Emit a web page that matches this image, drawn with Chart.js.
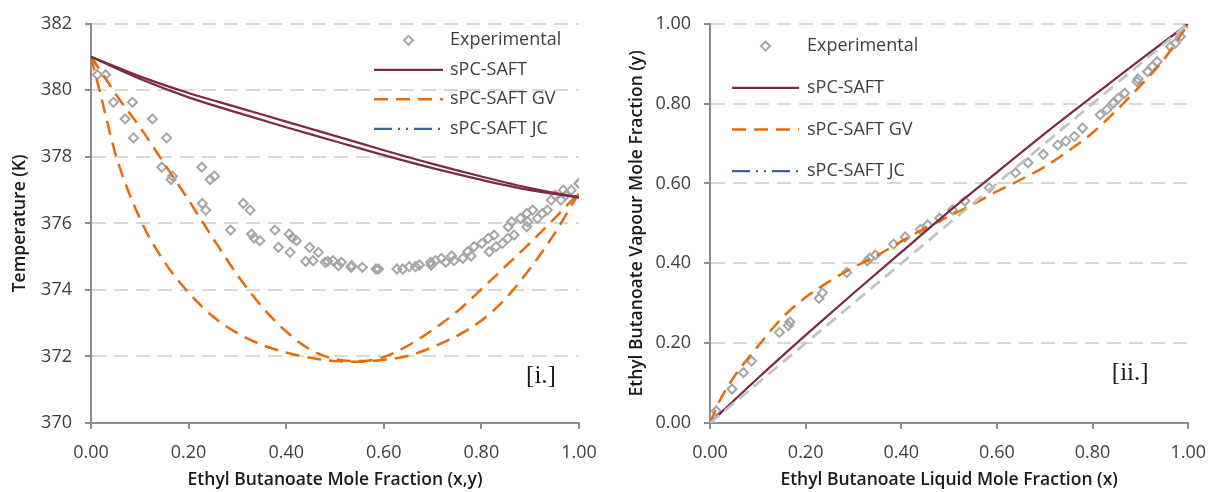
<!DOCTYPE html>
<html>
<head>
<meta charset="utf-8">
<script src="https://cdn.jsdelivr.net/npm/chart.js@4.4.1/dist/chart.umd.min.js"></script>
<style>
  html, body { margin: 0; padding: 0; background: #ffffff; }
  #wrap { position: relative; width: 1219px; height: 492px; overflow: hidden; }
  .panel { position: absolute; top: 0; height: 492px; }
  #p1 { left: 0; width: 610px; }
  #p2 { left: 610px; width: 609px; }
</style>
</head>
<body>
<div id="wrap">
  <div class="panel" id="p1"><canvas id="txy" width="610" height="492"></canvas></div>
  <div class="panel" id="p2"><canvas id="xy" width="609" height="492"></canvas></div>
</div>
<script>
// Ethyl butanoate VLE: measured points (liquid x, vapour y, temperature)
const expLiquidX = [0.000,0.013,0.046,0.070,0.087,0.145,0.164,0.167,0.228,0.235,0.286,0.329,0.334,0.346,0.384,0.408,0.440,0.455,0.480,0.507,0.533,0.584,0.639,0.665,0.697,0.727,0.744,0.762,0.779,0.816,0.830,0.843,0.854,0.867,0.893,0.895,0.915,0.925,0.935,0.963,0.973,0.984,1.000];
const expVapourY = [0.000,0.030,0.085,0.126,0.155,0.227,0.244,0.253,0.312,0.326,0.377,0.406,0.413,0.421,0.448,0.466,0.485,0.496,0.513,0.534,0.556,0.589,0.627,0.652,0.673,0.696,0.706,0.718,0.739,0.772,0.785,0.801,0.814,0.826,0.855,0.862,0.880,0.893,0.905,0.943,0.951,0.968,1.000];
const expTempK = [380.84,380.47,379.64,379.14,378.57,377.69,377.32,377.42,376.60,376.40,375.80,375.68,375.56,375.48,375.28,375.13,374.86,374.88,374.83,374.73,374.68,374.63,374.63,374.70,374.75,374.83,374.88,374.95,375.02,375.15,375.30,375.40,375.55,375.65,375.90,376.05,376.15,376.30,376.40,376.70,376.85,377.00,377.20];

// sPC-SAFT (no binary parameter)
const saftX = [0,0.1,0.2,0.3,0.4,0.5,0.6,0.7,0.8,0.9,1.0];
const saftDewT = [381.01,380.42,379.92,379.49,379.06,378.63,378.20,377.79,377.41,377.06,376.78];
const saftBubbleT = [381.01,380.35,379.79,379.33,378.89,378.47,378.05,377.66,377.31,377.00,376.78];
const saftVapourY = [0,0.112,0.220,0.325,0.428,0.530,0.628,0.725,0.818,0.910,1.0];

// sPC-SAFT GV
const gvX = [0,0.02,0.05,0.1,0.15,0.2,0.25,0.3,0.35,0.4,0.45,0.5,0.55,0.6,0.65,0.7,0.75,0.8,0.85,0.9,0.95,1.0];
const gvDewT = [381.0,380.58,379.9,378.9,377.8,376.7,375.55,374.45,373.5,372.75,372.2,371.92,371.86,371.98,372.33,372.8,373.35,374.02,374.72,375.42,376.15,376.92];
const gvBubbleT = [381.0,379.85,378.1,376.15,374.85,373.92,373.2,372.7,372.35,372.12,371.96,371.86,371.84,371.9,372.02,372.28,372.62,373.08,373.75,374.65,375.7,376.92];
const gvVapourY = [0,0.055,0.115,0.192,0.262,0.315,0.355,0.39,0.42,0.455,0.488,0.518,0.548,0.58,0.61,0.642,0.682,0.727,0.783,0.845,0.912,1.0];

// sPC-SAFT JC
const jcX = [];
const jcDewT = [];
const jcBubbleT = [];
const jcVapourY = [];

// y = x reference line
const diagX = [0, 1];
const diagY = [0, 1];

// axis ticks
const tempTicks = [370, 372, 374, 376, 378, 380, 382];
const fractionTicks = [0, 0.2, 0.4, 0.6, 0.8, 1.0];

const pts = (xs, ys) => xs.map((x, i) => ({ x: x, y: ys[i] }));

const C_EXP = '#a6a6a6';
const C_SAFT = '#7d2a45';
const C_GV = '#e46c0a';
const C_JC = '#3c6596';
const DASH_GV = [14, 8];
const DASH_JC = [18, 6, 2, 6, 2, 6];
const FONT = '"Open Sans", "DejaVu Sans", sans-serif';

function expSet(data) {
  return { label: 'Experimental', data: data, showLine: false, order: 5,
    pointStyle: 'rectRot', pointRadius: 4.5, pointHoverRadius: 4.5,
    pointBorderWidth: 2, pointBorderColor: C_EXP, pointBackgroundColor: 'rgba(0,0,0,0)' };
}
function curveSet(label, data, color, width, dash) {
  return { label: label, data: data, showLine: true, order: 1,
    borderColor: color, borderWidth: width, borderDash: dash || [],
    pointRadius: 0, pointHoverRadius: 0, fill: false,
    cubicInterpolationMode: 'monotone', borderCapStyle: 'butt' };
}

// key drawn inside the plot area
const cornerKey = {
  id: 'cornerKey',
  afterDatasetsDraw(chart, args, o) {
    const { ctx, chartArea } = chart;
    const seen = new Set();
    let row = 0;
    ctx.save();
    chart.data.datasets.forEach(ds => {
      if (!ds.label || seen.has(ds.label)) return;
      seen.add(ds.label);
      const y = chartArea.top + o.top + row * o.rowGap;
      const x0 = chartArea.left + o.left;
      if (ds.showLine === false) {
        const cx = x0 + o.sample / 2, r = o.markerRadius;
        ctx.setLineDash([]);
        ctx.lineWidth = ds.pointBorderWidth;
        ctx.strokeStyle = ds.pointBorderColor;
        ctx.beginPath();
        ctx.moveTo(cx - r, y); ctx.lineTo(cx, y - r); ctx.lineTo(cx + r, y); ctx.lineTo(cx, y + r);
        ctx.closePath(); ctx.stroke();
      } else {
        ctx.setLineDash(ds.borderDash || []);
        ctx.lineWidth = ds.borderWidth;
        ctx.strokeStyle = ds.borderColor;
        ctx.lineCap = 'butt';
        ctx.beginPath(); ctx.moveTo(x0, y); ctx.lineTo(x0 + o.sample, y); ctx.stroke();
      }
      ctx.setLineDash([]);
      ctx.fillStyle = o.color;
      ctx.font = o.font;
      ctx.textAlign = 'left';
      ctx.textBaseline = 'middle';
      ctx.fillText(ds.label, x0 + o.sample + o.gap, y);
      row++;
    });
    ctx.restore();
  }
};

// bracketed panel tag
const panelTag = {
  id: 'panelTag',
  afterDraw(chart, args, o) {
    const { ctx, chartArea } = chart;
    ctx.save();
    ctx.font = o.font;
    ctx.fillStyle = o.color;
    ctx.textAlign = 'center';
    ctx.textBaseline = 'middle';
    ctx.fillText(o.text, chartArea.right - o.right, chartArea.bottom - o.bottom);
    ctx.restore();
  }
};

function axis(cfg) {
  return {
    type: 'linear', min: cfg.min, max: cfg.max,
    afterBuildTicks: s => { s.ticks = cfg.ticks.map(v => ({ value: v })); },
    afterFit: s => { if (cfg.width) s.width = cfg.width; if (cfg.height) s.height = cfg.height; },
    ticks: { color: '#404040', padding: 13, font: { family: FONT, size: 18 },
             callback: cfg.fmt },
    grid: { display: true, drawOnChartArea: cfg.gridOn, color: '#d9d9d9', lineWidth: 2,
            drawTicks: true, tickLength: 6, tickColor: '#8c8c8c', tickWidth: 2 },
    border: { display: true, color: '#8c8c8c', width: 2, dash: [14, 8] },
    title: { display: true, text: cfg.title, color: '#1a1a1a',
             font: { family: FONT, size: 17.5, weight: '600' },
             padding: cfg.titlePad }
  };
}

function baseOptions(o) {
  return {
    responsive: false, animation: false, devicePixelRatio: 1,
    layout: { padding: { left: 0, top: 22, right: o.padRight, bottom: 0 } },
    events: [],
    plugins: {
      legend: { display: false }, tooltip: { enabled: false },
      cornerKey: o.key,
      panelTag: o.tag
    },
    scales: { x: o.x, y: o.y }
  };
}

new Chart(document.getElementById('txy'), {
  type: 'scatter',
  data: {
    datasets: [
      expSet(pts(expLiquidX, expTempK)),
      expSet(pts(expVapourY, expTempK)),
      curveSet('sPC-SAFT', pts(saftX, saftBubbleT), C_SAFT, 2.25),
      curveSet('sPC-SAFT', pts(saftX, saftDewT), C_SAFT, 2.25),
      curveSet('sPC-SAFT GV', pts(gvX, gvBubbleT), C_GV, 2.5, DASH_GV),
      curveSet('sPC-SAFT GV', pts(gvX, gvDewT), C_GV, 2.5, DASH_GV),
      curveSet('sPC-SAFT JC', pts(jcX, jcBubbleT), C_JC, 2.25, DASH_JC),
      curveSet('sPC-SAFT JC', pts(jcX, jcDewT), C_JC, 2.25, DASH_JC)
    ]
  },
  options: baseOptions({
    padRight: 31,
    key: { left: 283, top: 16.5, rowGap: 29.5, sample: 69, gap: 7, markerRadius: 4.5,
           color: '#404040', font: '18px ' + FONT },
    tag: { text: '[i.]', right: 38, bottom: 47, color: '#1a1a1a', font: '25px "Liberation Serif", serif' },
    x: axis({ min: 0, max: 1, ticks: fractionTicks, fmt: v => Number(v).toFixed(2), gridOn: false,
              height: 69, title: 'Ethyl Butanoate Mole Fraction (x,y)', titlePad: { top: 0, bottom: 1 } }),
    y: axis({ min: 370, max: 382, ticks: tempTicks, fmt: v => String(Math.round(v)), gridOn: true,
              width: 91, title: 'Temperature (K)', titlePad: { top: 9.5, bottom: 0 } })
  }),
  plugins: [cornerKey, panelTag]
});

new Chart(document.getElementById('xy'), {
  type: 'scatter',
  data: {
    datasets: [
      expSet(pts(expLiquidX, expVapourY)),
      curveSet('', pts(diagX, diagY), '#c2c2c2', 2.75, [12, 7]),
      curveSet('sPC-SAFT', pts(saftX, saftVapourY), C_SAFT, 2.25),
      curveSet('sPC-SAFT GV', pts(gvX, gvVapourY), C_GV, 2.5, DASH_GV),
      curveSet('sPC-SAFT JC', pts(jcX, jcVapourY), C_JC, 2.25, DASH_JC)
    ]
  },
  options: baseOptions({
    padRight: 21,
    key: { left: 22, top: 22.3, rowGap: 41.7, sample: 67, gap: 8, markerRadius: 4.5,
           color: '#404040', font: '18px ' + FONT },
    tag: { text: '[ii.]', right: 58, bottom: 50, color: '#1a1a1a', font: '25px "Liberation Serif", serif' },
    x: axis({ min: 0, max: 1, ticks: fractionTicks, fmt: v => Number(v).toFixed(2), gridOn: false,
              height: 69, title: 'Ethyl Butanoate Liquid Mole Fraction (x)', titlePad: { top: 0, bottom: 1 } }),
    y: axis({ min: 0, max: 1, ticks: fractionTicks, fmt: v => Number(v).toFixed(2), gridOn: true,
              width: 100, title: 'Ethyl Butanoate Vapour Mole Fraction (y)', titlePad: { top: 16.5, bottom: 0 } })
  }),
  plugins: [cornerKey, panelTag]
});
</script>
</body>
</html>
